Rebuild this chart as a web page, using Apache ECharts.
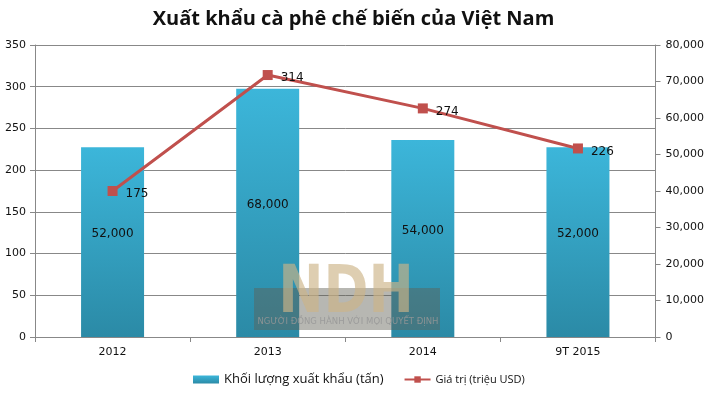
<!DOCTYPE html>
<html><head><meta charset="utf-8">
<script src="https://cdn.jsdelivr.net/npm/echarts@6/dist/echarts.min.js"></script>
<style>html,body{margin:0;padding:0;background:#fff}#c{width:707px;height:399px}</style>
</head><body><div id="c"></div>
<script>
var categories = ['2012', '2013', '2014', '9T 2015'];
var volumeTons = [52000, 68000, 54000, 52000];
var valueMillionUSD = [175, 314, 274, 226];
var leftTicks = [0, 50, 100, 150, 200, 250, 300, 350];
var rightTicks = [0, 10000, 20000, 30000, 40000, 50000, 60000, 70000, 80000];

var chart = echarts.init(document.getElementById('c'));
var fnt = 'Verdana, "DejaVu Sans", sans-serif';
chart.setOption({
  animation: false,
  title: {text: 'Xuất khẩu cà phê chế biến của Việt Nam', left: 'center', top: 4,
    textStyle: {fontFamily: '"Open Sans", "Noto Sans", sans-serif', fontWeight: 'bold', fontSize: 20, color: '#111'}},
  grid: {left: 35, right: 51, top: 45, bottom: 62},
  legend: {bottom: 8, left: 188, itemGap: 20, textStyle: {fontFamily: fnt, fontSize: 12, color: '#111'},
    data: [
      {name: 'Khối lượng xuất khẩu (tấn)', icon: 'rect', textStyle: {fontSize: 13, fontFamily: '"Open Sans", sans-serif'}},
      {name: 'Giá trị (triệu USD)', textStyle: {fontSize: 11, fontFamily: '"Open Sans", sans-serif'}}
    ],
    itemWidth: 26, itemHeight: 8},
  xAxis: {type: 'category', data: categories,
    axisLine: {lineStyle: {color: '#888'}}, axisTick: {show: true, length: 5, lineStyle: {color: '#888'}},
    axisLabel: {fontFamily: fnt, fontSize: 11, color: '#111', margin: 10}},
  yAxis: [
    {type: 'value', min: leftTicks[0], max: leftTicks[leftTicks.length-1], interval: 50, position: 'left',
     axisLine: {show: true, lineStyle: {color: '#888'}}, axisTick: {show: true, length: 5, lineStyle: {color: '#888'}},
     splitLine: {lineStyle: {color: '#888'}},
     axisLabel: {fontFamily: fnt, fontSize: 11, color: '#111', margin: 9}},
    {type: 'value', min: rightTicks[0], max: rightTicks[rightTicks.length-1], interval: 10000, position: 'right',
     axisLine: {show: true, lineStyle: {color: '#888'}}, axisTick: {show: true, length: 5, lineStyle: {color: '#888'}},
     splitLine: {show: false},
     axisLabel: {fontFamily: fnt, fontSize: 11, color: '#111', margin: 10,
       formatter: function (v) { return v.toLocaleString('en-US'); }}}
  ],
  graphic: [
    {type: 'rect', z: 100, shape: {x: 254, y: 288, width: 186, height: 42}, style: {fill: 'rgba(95,95,85,0.45)'}},
    {type: 'text', z: 101, x: 346, y: 262, scaleX: 0.82, style: {x: 0, y: 0, text: 'NDH', textAlign: 'center', font: 'bold 66px "DejaVu Sans", sans-serif', fill: 'rgba(205,180,135,0.65)'}},
    {type: 'text', z: 101, style: {x: 348, y: 317, text: 'NGƯỜI ĐỒNG HÀNH VỚI MỌI QUYẾT ĐỊNH', textAlign: 'center', font: '8.5px "DejaVu Sans", sans-serif', fill: 'rgba(150,150,150,0.85)'}}
  ],
  series: [
    {name: 'Khối lượng xuất khẩu (tấn)', type: 'bar', yAxisIndex: 1, data: volumeTons, barWidth: 63,
     itemStyle: {color: new echarts.graphic.LinearGradient(0, 0, 0, 1, [{offset: 0, color: '#3cb6da'}, {offset: 1, color: '#2b8aa6'}])},
     label: {show: true, position: 'inside', offset: [0, -8], fontFamily: fnt, fontSize: 12, color: '#111',
       formatter: function (p) { return p.value.toLocaleString('en-US'); }}},
    {name: 'Giá trị (triệu USD)', type: 'line', yAxisIndex: 0, data: valueMillionUSD,
     lineStyle: {color: '#c0504d', width: 3}, itemStyle: {color: '#c0504d'},
     symbol: 'rect', symbolSize: 10, showAllSymbol: true,
     label: {show: true, position: 'right', distance: 8, offset: [0, 3], fontFamily: fnt, fontSize: 12, color: '#111'}}
  ]
});
</script></body></html>
